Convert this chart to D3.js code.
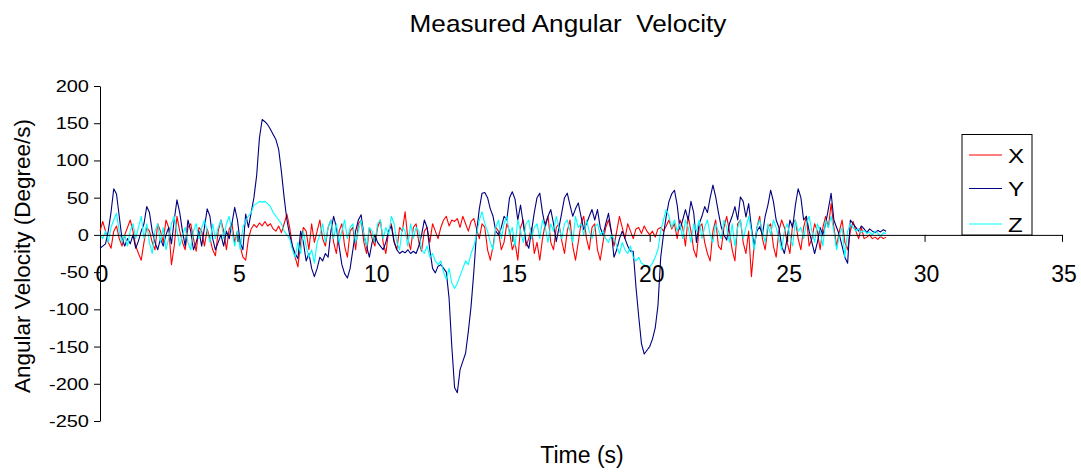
<!DOCTYPE html>
<html>
<head>
<meta charset="utf-8">
<script src="https://cdn.jsdelivr.net/npm/d3@7"></script>
<style>
  html, body { margin: 0; padding: 0; background: #fff; }
  svg { display: block; font-family: "Liberation Sans", Arial, Helvetica, sans-serif; }
</style>
</head>
<body>
<svg id="chart" width="1081" height="474"></svg>
<script>
// ---- data (sampled every 0.1 s, starting at t = 0) ----
const timeStart = 0;
const timeStep = 0.1;
const seriesNames = ["X", "Y", "Z"];
const seriesColors = ["#ff0000", "#000080", "#00ffff"];

const xValues = [
  5, 18, 5, -10, -18, 5, 12, -5, -15, 0,
  10, 20, 5, -15, -25, -34, -10, 10, 5, -10,
  -20, 15, 5, -10, 20, 10, -40, -15, 25, 5,
  -10, -20, 10, 15, -5, -22, 10, 5, -15, 8,
  -5, -20, -28, 5, 20, 5, -20, 8, 15, -10,
  5, -15, -30, -34, -5, 8, 14, 10, 16, 12,
  18, 12, 15, 8, 5, 12, 3, 15, 28, 10,
  -15, -30, -43, -10, 10, 5, -20, 15, -10, 5,
  20, -5, -15, 10, 20, -10, -25, 5, 15, -15,
  -30, 5, 10, -20, 15, 20, -10, -25, 10, -5,
  -15, 10, 20, -10, -25, 5, 15, -8, -20, 10,
  5, 31, -5, -20, 10, 15, -10, -22, 5, 10,
  -10, 15, 5, -5, 10, 20, 25, 12, 20, 18,
  22, 10, 25, 15, 5, 18, 22, 8, -5, 15,
  10, -20, -34, -15, 10, 5, -20, -10, 15, 5,
  -20, -10, -34, 10, 20, -15, -5, 10, -25, -10,
  -34, -5, 15, 25, -10, -20, 10, 15, -8, -25,
  5, 20, -15, -34, -10, 15, 25, -5, -20, 10,
  15, -20, -34, -10, 10, 20, 5, -15, 5, 25,
  10, -5, 15, 5, -5, 8, 10, 2, 12, 5,
  0, 5, -3, 8, 10, 5, 12, 20, 8, 15,
  -5, 20, 10, -15, 25, 5, -20, -30, 10, 15,
  -10, -25, -35, 5, 20, -15, -20, 10, 25, 5,
  -20, -35, 15, 20, -10, -25, 5, -56, -15, 10,
  25, -5, -20, 10, 15, -15, -30, 5, 20, 10,
  -10, -25, 15, 20, -5, -20, 10, 25, -15, -5,
  15, 5, -20, 10, 25, 10, 42, 10, -15, 5,
  20, -10, -20, 5, 18, 5, -5, 10, -5, -3,
  0, -5, -3, -6, -2, -5, -3
];

const yValues = [
  -18, -15, -12, 5, 30, 62, 55, 25, -5, -15,
  -5, -12, 0, -18, -8, 5, 15, 38, 30, 5,
  -10, -20, -5, -15, 0, 10, -12, 20, 47, 30,
  5, -15, 20, 5, -20, -10, 5, -15, 10, 35,
  25, -5, -20, -10, 0, -15, 5, -5, 15, 37,
  20, -10, -20, 28, 10, 30, 50, 80, 130, 155,
  152, 148, 142, 135, 128, 115, 85, 50, 20, 0,
  -15, -25, -32, 5, -10, -35, -25, -45, -56, -45,
  -30, -35, -25, -30, 5, 25, 10, -15, -40, -52,
  -58, -45, -20, 5, 20, 27, 0, -15, -30, -10,
  0, -10, -15, -20, -10, 5, 12, -10, -20, -25,
  -22, -24, -20, -25, -22, -25, -15, 0, 20, 10,
  -20, -45, -51, -42, -40, -45, -50, -85, -150, -205,
  -212, -181, -170, -159, -130, -96, -50, 3, 35, 56,
  57, 50, 35, 25, 5, 0, 10, 25, 20, 50,
  58, 48, 20, 40, 15, -10, -18, 5, 30, 50,
  56, 30, 11, 25, 34, 15, -9, 10, 30, 50,
  56, 40, 25, 35, 43, 25, 7, 15, 25, 34,
  20, 34, 10, 0, 15, 29, 5, -30, -20, -5,
  5, -5, -15, -22, -22, -70, -110, -146, -160, -155,
  -150, -140, -125, -95, -30, 0, 25, 45, 55, 60,
  40, 7, 20, 34, 20, 45, 30, -10, 15, 25,
  38, 30, 50, 67, 51, 30, 11, 0, -7, 15,
  25, 38, 20, 51, 45, 24, 42, 10, -16, 5,
  11, 0, 25, 40, 60, 45, 20, 10, -15, -25,
  -5, 20, 10, 40, 62, 50, 20, 25, 5, -10,
  -25, -10, 10, 0, 15, 35, 56, 20, 10, 0,
  -15, -30, -38, 20, 15, 10, 5, 12, 8, 3,
  8, 5, 3, 6, 4, 7, 5
];

const zValues = [
  0, -5, 5, -10, 10, 20, 29, 5, -10, 0,
  -15, 5, 15, -5, 10, 25, -5, 15, -10, -25,
  5, 15, -10, 10, -20, -5, 15, 25, 5, -15,
  0, 10, -10, -20, 5, 15, -5, 10, 20, 5,
  -10, 15, -5, 10, 20, -5, 15, 25, 5, -15,
  5, -20, 10, 20, 25, 30, 40, 42, 45, 44,
  45, 42, 38, 30, 25, 20, 15, 5, 0, -5,
  -20, -30, -10, -25, 5, -15, -30, -20, -38, -10,
  0, 15, -10, 10, 20, -5, 15, -10, 5, 20,
  -5, 10, 15, -10, 5, 20, 0, -15, 10, 5,
  -10, 15, 20, -5, 10, 0, 25, 15, -10, -20,
  10, 5, -15, 15, -5, 10, 5, -20, -25, -15,
  -30, -25, -35, -40, -35, -50, -60, -45, -65, -72,
  -65, -55, -45, -35, -40, -25, -15, 0, 20, 31,
  15, 5, -10, -20, 10, 20, -5, 15, 25, 0,
  10, -15, 20, 5, -10, 15, 20, -5, 10, 15,
  -5, 20, 10, -10, 15, 5, 25, 10, -5, 15,
  20, 5, -10, 25, 10, 15, 0, 20, 5, -5,
  10, 15, 0, 5, -5, -10, 0, -5, -15, -25,
  -10, -20, -25, -15, -30, -35, -30, -38, -40, -43,
  -43, -38, -30, -20, 5, 20, 34, 25, 10, 20,
  5, 15, -5, 20, 10, -10, 15, 5, 20, -5,
  10, 20, 0, -10, 15, 5, -5, 20, 10, -10,
  15, -15, 10, 20, -5, 10, 25, 5, -20, 10,
  20, 5, -10, 15, 0, 20, 10, -5, -20, 5,
  15, 0, -15, 20, 5, 10, -5, 15, 25, 5,
  -10, 15, 5, -15, 20, 10, 25, 5, -20, 0,
  10, -30, 5, 15, 10, 5, 8, 3, 6, 2,
  4, 0, 5, 2, -2, 3, 2
];

const xTicks = [0, 5, 10, 15, 20, 25, 30, 35];
const yTicks = [200, 150, 100, 50, 0, -50, -100, -150, -200, -250];

const titleText = "Measured Angular  Velocity";
const xAxisTitle = "Time (s)";
const yAxisTitle = "Angular Velocity (Degree/s)";

// ---- chart ----
const svg = d3.select("#chart");
const x = d3.scaleLinear().domain([0, 35]).range([100, 1062]);
const y = d3.scaleLinear().domain([-250, 200]).range([421, 86]);

const allSeries = [xValues, yValues, zValues];

// Title
svg.append("text")
  .attr("transform", `translate(568,32) scale(1.09,1)`)
  .attr("text-anchor", "middle")
  .attr("font-size", 24)
  .attr("fill", "#000")
  .style("white-space", "pre")
  .attr("xml:space", "preserve")
  .text(titleText);

// Y axis
const yAxis = svg.append("g")
  .attr("transform", `translate(${x(0)},0)`)
  .call(d3.axisLeft(y).tickValues(yTicks).tickSize(6).tickSizeOuter(0).tickFormat(""));
yAxis.select(".domain").attr("stroke", "#000");
yAxis.selectAll(".tick line").attr("stroke", "#000");

svg.append("g").selectAll("text")
  .data(yTicks)
  .join("text")
  .attr("transform", d => `translate(89,${y(d) + 6}) scale(1.25,1)`)
  .attr("text-anchor", "end")
  .attr("font-size", 16)
  .attr("fill", "#000")
  .text(d => d);

// Lines
const line = d3.line()
  .x((d, i) => x(timeStart + i * timeStep))
  .y(d => y(d));

svg.append("g").selectAll("path")
  .data(allSeries)
  .join("path")
  .attr("d", d => line(d))
  .attr("fill", "none")
  .attr("stroke", (d, i) => seriesColors[i])
  .attr("stroke-width", 1.1)
  .attr("stroke-linejoin", "round");

// X axis at y = 0
const xAxis = svg.append("g")
  .attr("transform", `translate(0,${y(0)})`)
  .call(d3.axisBottom(x).tickValues(xTicks).tickSize(7).tickSizeOuter(0).tickFormat(""));
xAxis.select(".domain").attr("stroke", "#000");
xAxis.selectAll(".tick line").attr("stroke", "#000");

svg.append("g").selectAll("text")
  .data(xTicks)
  .join("text")
  .attr("x", d => x(d) + 2)
  .attr("y", 282)
  .attr("text-anchor", "middle")
  .attr("font-size", 23)
  .attr("fill", "#000")
  .text(d => d);

// Axis titles
svg.append("text")
  .attr("x", 582)
  .attr("y", 463)
  .attr("text-anchor", "middle")
  .attr("font-size", 23)
  .attr("fill", "#000")
  .text(xAxisTitle);

svg.append("text")
  .attr("transform", "translate(30,256) rotate(-90)")
  .attr("text-anchor", "middle")
  .attr("font-size", 22.5)
  .attr("fill", "#000")
  .text(yAxisTitle);

// Legend
const legend = svg.append("g");
legend.append("rect")
  .attr("x", 962).attr("y", 134.5)
  .attr("width", 70).attr("height", 100.5)
  .attr("fill", "#fff")
  .attr("stroke", "#000")
  .attr("stroke-width", 1);

const legendY = [155, 188.5, 224];
const items = legend.selectAll("g.item")
  .data(seriesNames)
  .join("g")
  .attr("class", "item");
items.append("line")
  .attr("x1", 969).attr("x2", 1002)
  .attr("y1", (d, i) => legendY[i]).attr("y2", (d, i) => legendY[i])
  .attr("stroke", (d, i) => seriesColors[i])
  .attr("stroke-width", 1.2);
items.append("text")
  .attr("transform", (d, i) => `translate(1008,${legendY[i] + 7.5}) scale(1.15,1)`)
  .attr("font-size", 21)
  .attr("fill", "#000")
  .text(d => d);
</script>
</body>
</html>
